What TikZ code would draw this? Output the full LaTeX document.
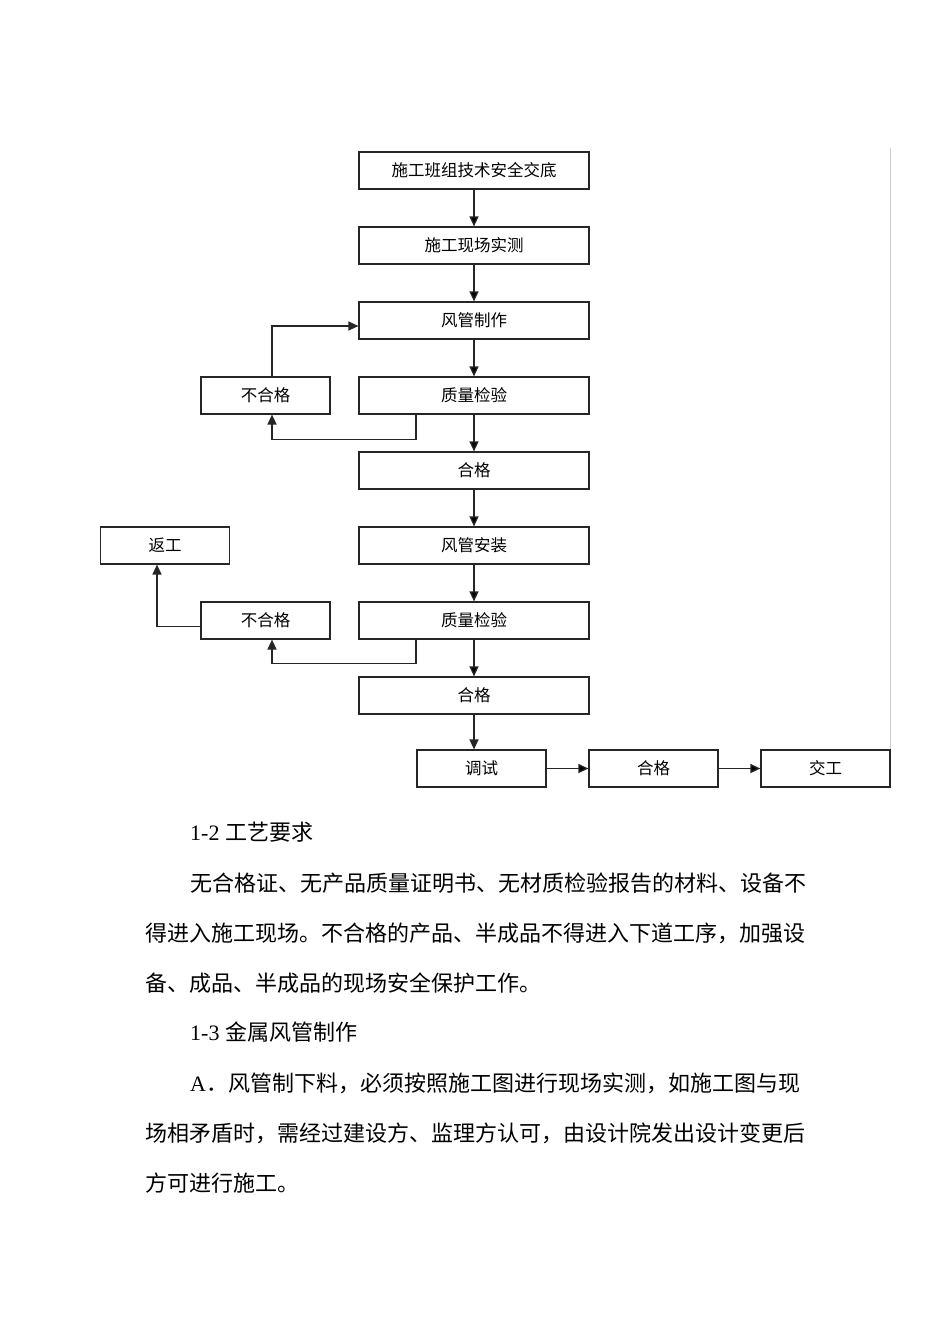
\documentclass[tikz,border=0pt]{standalone}
\usepackage{fontspec}
\setmainfont{Liberation Serif}
\newfontfamily\cjk{Noto Sans CJK SC}
\usetikzlibrary{arrows.meta,positioning}

\tikzset{
	stepbox/.style={rectangle, draw=black!85, line width=1.2pt, minimum width=230pt,
		minimum height=37pt, inner sep=0pt, font=\fontsize{16.5}{18}\selectfont\cjk},
	sidebox/.style={stepbox, minimum width=129pt},
	flow/.style={->, line width=1.3pt, draw=black!85},
	txt/.style={anchor=west, inner sep=0pt, font=\fontsize{22}{26}\selectfont}
}

\begin{document}
\begin{tikzpicture}[node distance=75pt,auto,x=1pt,y=-1pt,>={Triangle[length=10pt,width=9pt]}]
	\useasboundingbox[fill=white] (0,0) rectangle (950,1344);

	\node[stepbox] (Brief) at (474,170.5) {施工班组技术安全交底};
	\node[stepbox] (Survey) [below of=Brief] {施工现场实测};
	\node[stepbox] (Make) [below of=Survey] {风管制作};
	\node[stepbox] (QA1) [below of=Make] {质量检验};
	\node[stepbox] (Pass1) [below of=QA1] {合格};
	\node[stepbox] (Install) [below of=Pass1] {风管安装};
	\node[stepbox] (QA2) [below of=Install] {质量检验};
	\node[stepbox] (Pass2) [below of=QA2] {合格};

	\node[sidebox] (NG1) [node distance=208.5pt, left of=QA1] {不合格};
	\node[sidebox] (NG2) [node distance=208.5pt, left of=QA2] {不合格};
	\node[sidebox] (Rework) [node distance=309pt, left of=Install] {返工};

	\node[sidebox] (Test) at (481.5,768.5) {调试};
	\node[sidebox] (Pass3) [node distance=172pt, right of=Test] {合格};
	\node[sidebox] (Hand) [node distance=172pt, right of=Pass3] {交工};

	% main line
	\path[flow] (Brief) edge (Survey);
	\path[flow] (Survey) edge (Make);
	\path[flow] (Make) edge (QA1);
	\path[flow] (QA1) edge (Pass1);
	\path[flow] (Pass1) edge (Install);
	\path[flow] (Install) edge (QA2);
	\path[flow] (QA2) edge (Pass2);
	\draw[flow] (Pass2.south) -- (Pass2.south |- Test.north);
	\path[flow] (Test) edge (Pass3);
	\path[flow] (Pass3) edge (Hand);

	% loops back
	\draw[flow] ([xshift=-58pt]QA1.south) -- ++(0,25) -| ([xshift=6.5pt]NG1.south);
	\draw[flow] ([xshift=6.5pt]NG1.north) |- ([yshift=-5.5pt]Make.west);
	\draw[flow] ([xshift=-58pt]QA2.south) -- ++(0,24) -| ([xshift=6.5pt]NG2.south);
	\draw[flow] ([yshift=-6pt]NG2.west) -| ([xshift=-8pt]Rework.south);

	\draw[black!20, line width=1pt] ([yshift=3pt]Hand.north east |- Brief.north) -- (Hand.north east);

	% text below
	\node[txt] (h12) at (190,832) {1-2 {\cjk 工艺要求}};
	\node[txt] (p1a) at (190,883) {\cjk 无合格证、无产品质量证明书、无材质检验报告的材料、设备不};
	\node[txt] (p1b) at (145,933) {\cjk 得进入施工现场。不合格的产品、半成品不得进入下道工序，加强设};
	\node[txt] (p1c) at (145,983) {\cjk 备、成品、半成品的现场安全保护工作。};
	\node[txt] (h13) at (190,1032) {1-3 {\cjk 金属风管制作}};
	\node[txt] (p2a) at (190,1083) {A{\cjk ．风管制下料，必须按照施工图进行现场实测，如施工图与现}};
	\node[txt] (p2b) at (145,1133) {\cjk 场相矛盾时，需经过建设方、监理方认可，由设计院发出设计变更后};
	\node[txt] (p2c) at (145,1183) {\cjk 方可进行施工。};
\end{tikzpicture}
\end{document}
